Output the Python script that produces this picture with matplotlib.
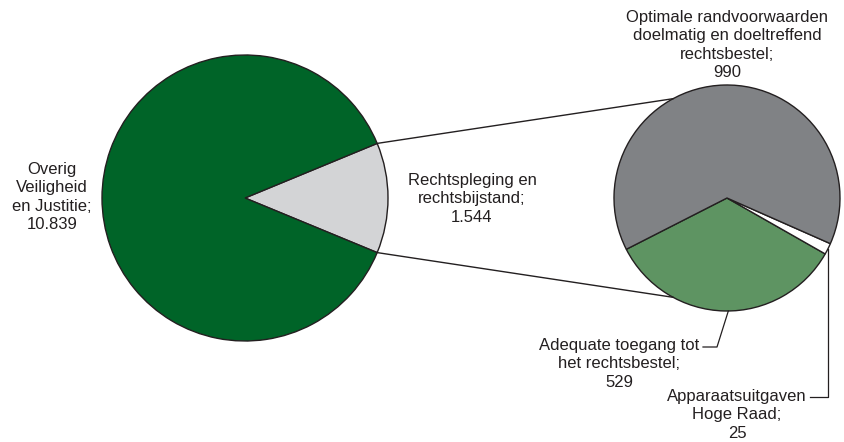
import numpy as np
import matplotlib.pyplot as plt

# data
main_labels = ["Rechtspleging en\nrechtsbijstand;\n1.544", "Overig\nVeiligheid\nen Justitie;\n10.839"]
main_values = [1544, 10839]
main_colors = ["#d3d4d6", "#006428"]

sub_labels = ["Adequate toegang tot\nhet rechtsbestel;\n529",
              "Apparaatsuitgaven\nHoge Raad;\n25",
              "Optimale randvoorwaarden\ndoelmatig en doeltreffend\nrechtsbestel;\n990"]
sub_values = [529, 25, 990]
sub_colors = ["#5e9462", "#ffffff", "#808285"]

W, H = 845, 442
fig = plt.figure(figsize=(W / 100, H / 100), dpi=100)
ax = fig.add_axes([0, 0, 1, 1])

plt.rcParams["font.family"] = ["Liberation Sans", "DejaVu Sans"]
txt = "#231f20"
edge = "#231f20"
fs = 12
ls = 1.27

# left pie
c1 = (245, H - 198)
r1 = 143
frac = main_values[0] / sum(main_values)
half = frac * 360 / 2
ax.pie(main_values, colors=main_colors, startangle=-half, center=c1, radius=r1,
       wedgeprops=dict(edgecolor=edge, linewidth=1), frame=True)

# right pie
c2 = (727, H - 198)
r2 = 113
start2 = 207
ax.pie(sub_values, colors=sub_colors, startangle=start2, center=c2, radius=r2,
       wedgeprops=dict(edgecolor=edge, linewidth=1), frame=True)
ax.set_xlim(0, W)
ax.set_ylim(0, H)
ax.set_aspect("equal")
ax.axis("off")

# connecting lines
for s, a2 in [(1, 118.5), (-1, 241.5)]:
    a1 = np.radians(s * half)
    p1 = (c1[0] + r1 * np.cos(a1), c1[1] + r1 * np.sin(a1))
    p2 = (c2[0] + r2 * np.cos(np.radians(a2)), c2[1] + r2 * np.sin(np.radians(a2)))
    ax.plot([p1[0], p2[0]], [p1[1], p2[1]], color=edge, lw=1)

# labels left pie
ax.text(52, H - 197, main_labels[1], ha="center", va="center", fontsize=fs, color=txt, linespacing=ls)
ax.text(472, H - 199, main_labels[0], ha="center", va="center", fontsize=fs, color=txt, linespacing=ls)

# right pie labels
ax.text(727, H - 45, sub_labels[2], ha="center", va="center", fontsize=fs, color=txt, linespacing=ls)

# wedge mid angles for leaders
tot = sum(sub_values)
angs = np.cumsum([0] + sub_values) / tot * 360 + start2
mid_g = np.radians((angs[0] + angs[1]) / 2 + 2)
mid_w = np.radians((angs[1] + angs[2]) / 2)

pg = (c2[0] + r2 * np.cos(mid_g), c2[1] + r2 * np.sin(mid_g))
ax.plot([703, 717, pg[0]], [H - 347, H - 347, pg[1]], color=edge, lw=0.9)
ax.text(619, H - 364, sub_labels[0], ha="center", va="center", fontsize=fs, color=txt, linespacing=ls)

pw = (c2[0] + r2 * np.cos(mid_w), c2[1] + r2 * np.sin(mid_w))
ax.plot([810, pw[0], pw[0]], [H - 397, H - 397, pw[1]], color=edge, lw=0.9)
ax.text(737, H - 415, sub_labels[1], ha="center", va="center", fontsize=fs, color=txt, linespacing=ls)

fig.savefig("out.png", dpi=100)
